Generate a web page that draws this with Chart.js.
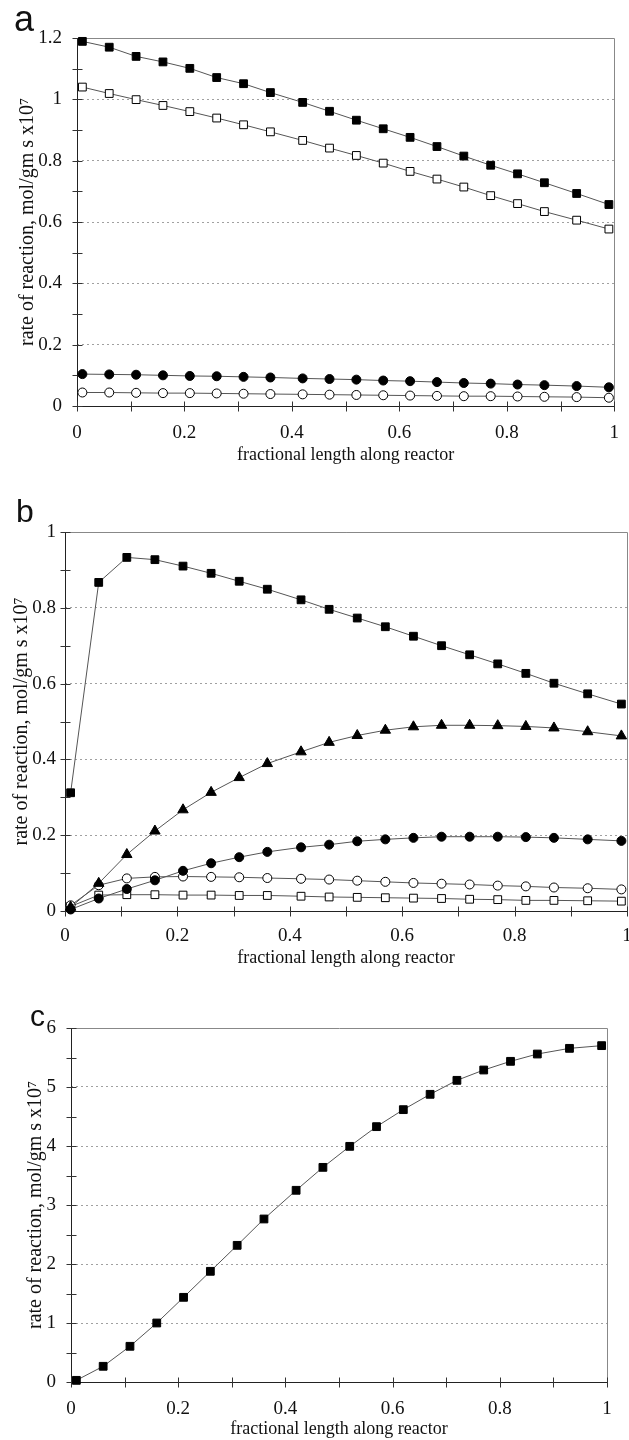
<!DOCTYPE html>
<html>
<head>
<meta charset="utf-8">
<script src="https://cdn.jsdelivr.net/npm/chart.js@4.4.1/dist/chart.umd.min.js"></script>
<style>
  html, body { margin: 0; padding: 0; background: #fff; }
  body { width: 629px; height: 1440px; position: relative; overflow: hidden; }
  canvas { position: absolute; left: 0; }
  .letter { position: absolute; font-family: "Liberation Sans", Arial, sans-serif; color: #111; line-height: 1; }
</style>
</head>
<body>
<canvas id="chartA" width="629" height="470" style="top:0px"></canvas>
<canvas id="chartB" width="640" height="499" style="top:470px"></canvas>
<canvas id="chartC" width="629" height="471" style="top:969px"></canvas>
<div class="letter" style="left:14px; top:1px; font-size:36px;">a</div>
<div class="letter" style="left:16px; top:495px; font-size:32px;">b</div>
<div class="letter" style="left:30px; top:1001px; font-size:30px;">c</div>
<script>
// sample positions along the reactor (same for all three panels)
const xPos = [0.01, 0.06, 0.11, 0.16, 0.21, 0.26, 0.31, 0.36, 0.42, 0.47, 0.52, 0.57, 0.62, 0.67, 0.72, 0.77, 0.82, 0.87, 0.93, 0.99];

// panel a
const aFilledSquare = [1.189, 1.170, 1.140, 1.122, 1.101, 1.071, 1.051, 1.022, 0.990, 0.961, 0.932, 0.904, 0.876, 0.846, 0.815, 0.785, 0.757, 0.728, 0.693, 0.657];
const aOpenSquare   = [1.040, 1.019, 0.999, 0.980, 0.960, 0.939, 0.917, 0.894, 0.866, 0.841, 0.817, 0.792, 0.765, 0.740, 0.714, 0.686, 0.660, 0.634, 0.606, 0.577];
const aFilledCircle = [0.104, 0.103, 0.102, 0.100, 0.098, 0.097, 0.095, 0.093, 0.090, 0.088, 0.086, 0.083, 0.081, 0.078, 0.075, 0.073, 0.070, 0.068, 0.065, 0.061];
const aOpenCircle   = [0.044, 0.044, 0.043, 0.042, 0.042, 0.041, 0.040, 0.039, 0.038, 0.037, 0.036, 0.035, 0.034, 0.033, 0.032, 0.032, 0.031, 0.030, 0.029, 0.027];

// panel b
const bFilledSquare = [0.312, 0.867, 0.933, 0.927, 0.910, 0.891, 0.870, 0.849, 0.821, 0.796, 0.773, 0.750, 0.725, 0.700, 0.676, 0.652, 0.627, 0.601, 0.573, 0.546];
const bTriangle     = [0.010, 0.073, 0.149, 0.211, 0.267, 0.313, 0.352, 0.389, 0.420, 0.445, 0.463, 0.477, 0.486, 0.490, 0.490, 0.489, 0.487, 0.483, 0.473, 0.462];
const bFilledCircle = [0.004, 0.033, 0.058, 0.081, 0.106, 0.126, 0.142, 0.156, 0.168, 0.175, 0.184, 0.189, 0.193, 0.196, 0.196, 0.196, 0.195, 0.193, 0.189, 0.185];
const bOpenCircle   = [0.015, 0.068, 0.086, 0.090, 0.091, 0.090, 0.089, 0.087, 0.085, 0.083, 0.080, 0.077, 0.074, 0.072, 0.070, 0.067, 0.065, 0.062, 0.060, 0.057];
const bOpenSquare   = [0.012, 0.042, 0.043, 0.043, 0.042, 0.042, 0.041, 0.041, 0.039, 0.037, 0.036, 0.035, 0.034, 0.033, 0.031, 0.030, 0.028, 0.028, 0.027, 0.026];

// panel c
const cFilledSquare = [0.028, 0.266, 0.605, 1.000, 1.435, 1.876, 2.316, 2.763, 3.249, 3.638, 3.994, 4.328, 4.616, 4.876, 5.113, 5.288, 5.435, 5.559, 5.655, 5.701];

const xTitle = 'fractional length along reactor';
const yTitle = 'rate of reaction, mol/gm s x10\u2077';

const serif = "'Liberation Serif', 'Times New Roman', serif";
const ink = '#111';

function pts(ys) {
  return xPos.map((x, i) => ({ x: x, y: ys[i] }));
}

function series(ys, shape, filled, r) {
  return {
    data: pts(ys),
    borderColor: '#555',
    borderWidth: 1,
    pointStyle: shape,
    pointRadius: r,
    pointBackgroundColor: filled ? '#000' : '#fff',
    pointBorderColor: '#000',
    pointBorderWidth: 1,
    tension: 0,
    fill: false,
    clip: false
  };
}

// box round the plot area (dark left/bottom, grey top/right) and
// tick marks that cross the axis lines
const framePlugin = {
  id: 'frame',
  beforeDatasetsDraw(chart) {
    const ctx = chart.ctx;
    const a = chart.chartArea;
    const l = Math.round(a.left) + 0.5, r = Math.round(a.right) + 0.5;
    const t = Math.round(a.top) + 0.5, b = Math.round(a.bottom) + 0.5;
    ctx.save();
    ctx.lineWidth = 1;
    ctx.strokeStyle = '#888';
    ctx.beginPath();
    ctx.moveTo(l, t); ctx.lineTo(r, t); ctx.lineTo(r, b);
    ctx.stroke();
    ctx.strokeStyle = '#222';
    ctx.beginPath();
    ctx.moveTo(l, t); ctx.lineTo(l, b); ctx.lineTo(r, b);
    ctx.stroke();

    ctx.strokeStyle = '#333';
    ctx.beginPath();
    const xs = chart.scales.x, ys = chart.scales.y;
    xs.ticks.forEach((tk, i) => {
      const px = Math.round(xs.getPixelForTick(i)) + 0.5;
      ctx.moveTo(px, b - 5); ctx.lineTo(px, b + 5);
    });
    ys.ticks.forEach((tk, i) => {
      const py = Math.round(ys.getPixelForTick(i)) + 0.5;
      ctx.moveTo(l - 5, py); ctx.lineTo(l + 5, py);
    });
    ctx.stroke();
    ctx.restore();
  }
};

const tenths = v => Math.round(v * 10);
const fmt = v => String(Number(v.toFixed(1)));

function makeChart(id, datasets, g) {
  return new Chart(document.getElementById(id), {
    type: 'line',
    data: { datasets: datasets },
    options: {
      responsive: false,
      animation: false,
      layout: { padding: { top: g.top, right: g.right, bottom: 0, left: 0 } },
      plugins: { legend: { display: false }, tooltip: { enabled: false } },
      scales: {
        x: {
          type: 'linear',
          min: 0,
          max: 1,
          afterFit: s => { s.height = g.xAxisH; },
          grid: { drawOnChartArea: false, tickLength: 6, tickColor: 'rgba(0,0,0,0)', color: '#333' },
          border: { display: false },
          ticks: {
            stepSize: 0.1,
            autoSkip: false,
            maxRotation: 0,
            padding: g.xPad,
            color: ink,
            font: { family: serif, size: 19 },
            callback: v => (tenths(v) % 2 === 0 ? fmt(v) : '')
          },
          title: {
            display: true,
            text: xTitle,
            color: ink,
            font: { family: serif, size: 18 },
            padding: { top: 0, bottom: g.xTitlePad }
          }
        },
        y: {
          type: 'linear',
          min: 0,
          max: g.yMax,
          afterFit: s => { s.width = g.yAxisW; },
          grid: {
            tickLength: 5,
            tickColor: 'rgba(0,0,0,0)',
            color: c => (c.tick && g.major(c.tick.value) && c.tick.value > 0 ? '#a0a0a0' : 'rgba(0,0,0,0)')
          },
          border: { display: false, dash: [2, 3] },
          ticks: {
            stepSize: g.yStep,
            autoSkip: false,
            padding: g.yPad,
            color: ink,
            font: { family: serif, size: 19 },
            callback: v => (g.major(v) ? fmt(v) : '')
          },
          title: {
            display: true,
            text: yTitle,
            color: ink,
            font: { family: serif, size: 20 },
            padding: { top: g.yTitlePad, bottom: 0 }
          }
        }
      }
    },
    plugins: [framePlugin]
  });
}

const evenTenth = v => tenths(v) % 2 === 0;
const wholeUnit = v => Math.abs(v - Math.round(v)) < 1e-6;

makeChart('chartA', [
  series(aFilledSquare, 'rect', true, 5.5),
  series(aOpenSquare, 'rect', false, 5.5),
  series(aFilledCircle, 'circle', true, 4.5),
  series(aOpenCircle, 'circle', false, 4.5)
], { top: 38, right: 14, xAxisH: 64, yAxisW: 77, xPad: 10, xTitlePad: 4, yTitlePad: 16, yMax: 1.2, yStep: 0.1, yPad: 10, major: evenTenth });

makeChart('chartB', [
  series(bFilledSquare, 'rect', true, 5.5),
  series(bTriangle, 'triangle', true, 6),
  series(bFilledCircle, 'circle', true, 4.5),
  series(bOpenCircle, 'circle', false, 4.5),
  series(bOpenSquare, 'rect', false, 5.5)
], { top: 62, right: 13, xAxisH: 58, yAxisW: 65, xPad: 8, xTitlePad: 0, yTitlePad: 10, yMax: 1, yStep: 0.1, yPad: 4, major: evenTenth });

makeChart('chartC', [
  series(cFilledSquare, 'rect', true, 5.5)
], { top: 59, right: 22, xAxisH: 58, yAxisW: 71, xPad: 10, xTitlePad: 0, yTitlePad: 24, yMax: 6, yStep: 0.5, yPad: 10, major: wholeUnit });
</script>
</body>
</html>
